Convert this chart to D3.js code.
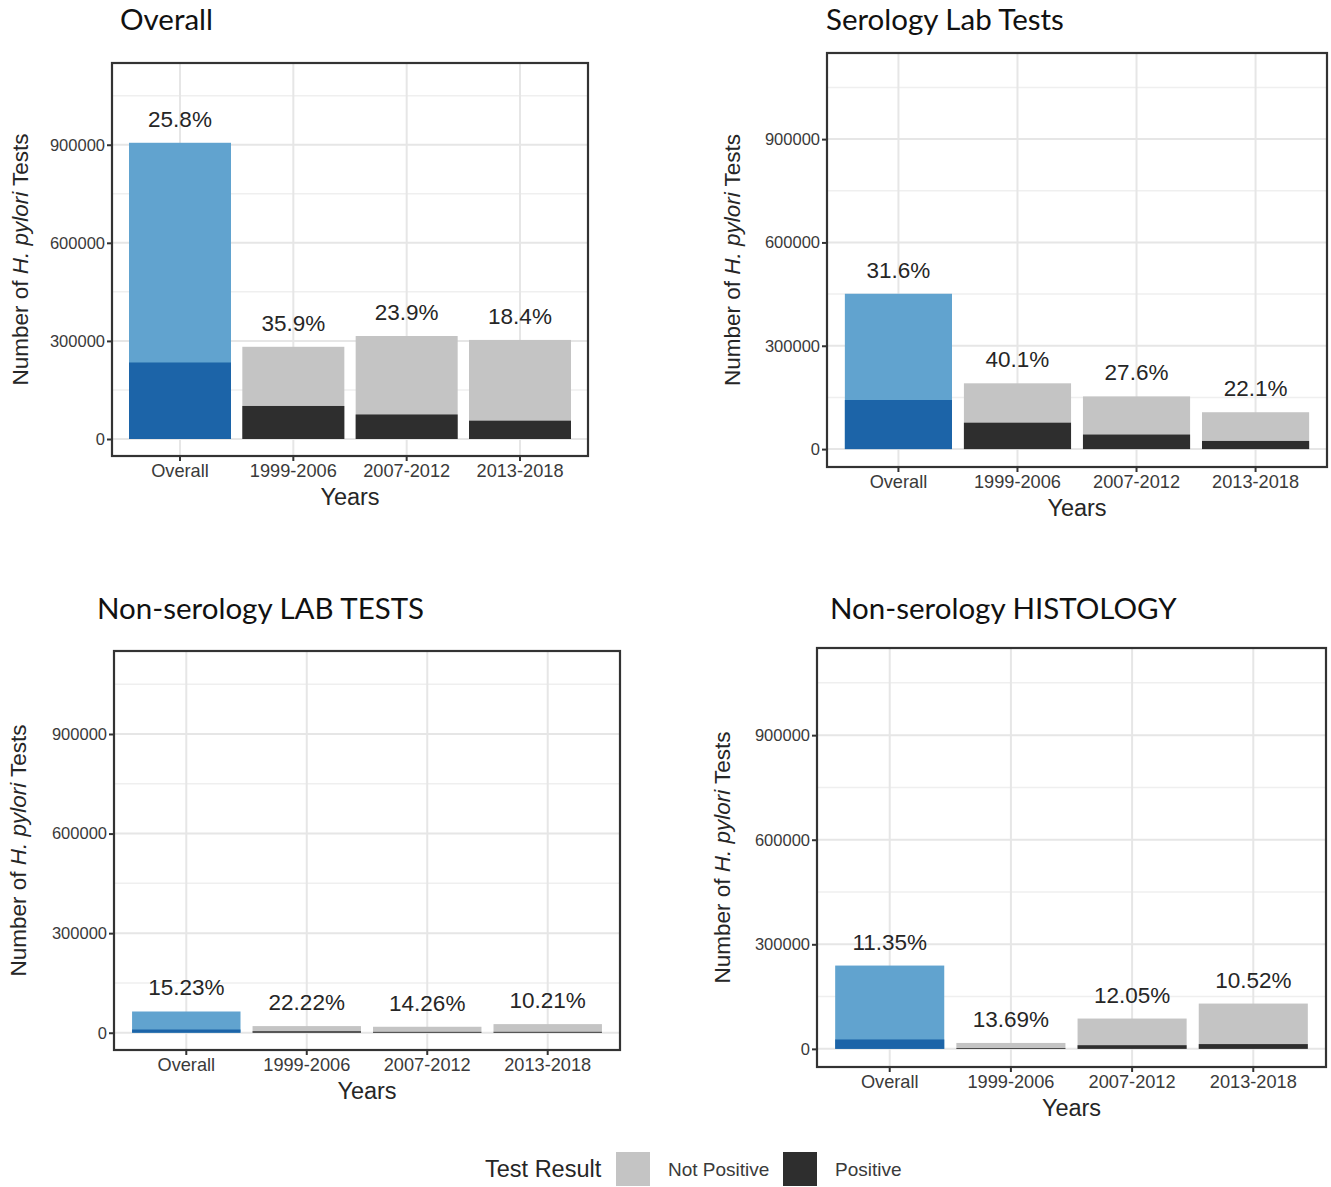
<!DOCTYPE html>
<meta charset="utf-8">
<body style="margin:0;background:#fff">
<svg width="1331" height="1187"></svg>
<script src="https://cdnjs.cloudflare.com/ajax/libs/d3/7.8.5/d3.min.js"></script>
<script>

// categories and tick values
var categories = ["Overall", "1999-2006", "2007-2012", "2013-2018"];
var yTicks = [0, 300000, 600000, 900000];
var yMinorTicks = [150000, 450000, 750000, 1050000];

// number of tests (total) and positive tests
var overallTotal = [906000, 282000, 315000, 303000];
var overallPositive = [234000, 101000, 75000, 56000];
var overallPct = ["25.8%", "35.9%", "23.9%", "18.4%"];

var serologyTotal = [451000, 191000, 153000, 107000];
var serologyPositive = [142500, 76600, 42200, 23600];
var serologyPct = ["31.6%", "40.1%", "27.6%", "22.1%"];

var labTotal = [64000, 20000, 18000, 26000];
var labPositive = [9700, 4400, 2600, 2700];
var labPct = ["15.23%", "22.22%", "14.26%", "10.21%"];

var histoTotal = [239000, 17000, 87000, 130000];
var histoPositive = [27000, 2300, 10500, 13700];
var histoPct = ["11.35%", "13.69%", "12.05%", "10.52%"];

var panelTitles = ["Overall", "Serology Lab Tests", "Non-serology LAB TESTS", "Non-serology HISTOLOGY"];

var legendLabels = ["Not Positive", "Positive"];

// layout of each panel box
var panels = [
  {title: panelTitles[0], total: overallTotal, pos: overallPositive, pct: overallPct,
   x0: 112, x1: 588, y0: 63, y1: 456, tx: 120, ty: 30, ax: 20},
  {title: panelTitles[1], total: serologyTotal, pos: serologyPositive, pct: serologyPct,
   x0: 827, x1: 1327, y0: 53, y1: 467, tx: 826, ty: 30, ax: 732},
  {title: panelTitles[2], total: labTotal, pos: labPositive, pct: labPct,
   x0: 114, x1: 620, y0: 651, y1: 1050, tx: 97, ty: 619, ax: 18},
  {title: panelTitles[3], total: histoTotal, pos: histoPositive, pct: histoPct,
   x0: 817, x1: 1326, y0: 648, y1: 1067, tx: 830, ty: 619, ax: 722}
];

var colLight = "#61a3cf", colDark = "#1c64a8";
var colGrey = "#c4c4c4", colBlack = "#2e2e2e";
var textCol = "#262626";
var tickFont = "Liberation Sans, Arial, sans-serif";

var svg = d3.select("svg");

panels.forEach(function(p) {
  var g = svg.append("g");

  var x = d3.scaleBand()
    .domain(categories)
    .range([p.x0, p.x1])
    .paddingInner(0.1)
    .paddingOuter(0.15);
  var y = d3.scaleLinear().domain([-52000, 1150000]).range([p.y1, p.y0]);

  // grid
  g.selectAll(".minor").data(yMinorTicks).enter().append("line")
    .attr("x1", p.x0).attr("x2", p.x1)
    .attr("y1", function(d) { return y(d); }).attr("y2", function(d) { return y(d); })
    .attr("stroke", "#efefef").attr("stroke-width", 1.5);
  g.selectAll(".major").data(yTicks).enter().append("line")
    .attr("x1", p.x0).attr("x2", p.x1)
    .attr("y1", function(d) { return y(d); }).attr("y2", function(d) { return y(d); })
    .attr("stroke", "#e6e6e6").attr("stroke-width", 2);
  g.selectAll(".vgrid").data(categories).enter().append("line")
    .attr("x1", function(d) { return x(d) + x.bandwidth() / 2; })
    .attr("x2", function(d) { return x(d) + x.bandwidth() / 2; })
    .attr("y1", p.y0).attr("y2", p.y1)
    .attr("stroke", "#e6e6e6").attr("stroke-width", 2);

  // bars: total then positive on top
  g.selectAll(".tot").data(categories).enter().append("rect")
    .attr("x", function(d) { return x(d); })
    .attr("width", x.bandwidth())
    .attr("y", function(d, i) { return y(p.total[i]); })
    .attr("height", function(d, i) { return y(0) - y(p.total[i]); })
    .attr("fill", function(d, i) { return i == 0 ? colLight : colGrey; });
  g.selectAll(".pos").data(categories).enter().append("rect")
    .attr("x", function(d) { return x(d); })
    .attr("width", x.bandwidth())
    .attr("y", function(d, i) { return y(p.pos[i]); })
    .attr("height", function(d, i) { return y(0) - y(p.pos[i]); })
    .attr("fill", function(d, i) { return i == 0 ? colDark : colBlack; });

  // percent labels
  g.selectAll(".pct").data(categories).enter().append("text")
    .attr("x", function(d) { return x(d) + x.bandwidth() / 2; })
    .attr("y", function(d, i) { return y(p.total[i]) - 16; })
    .attr("text-anchor", "middle")
    .style("font-family", tickFont).style("font-size", "22.5px").style("fill", textCol)
    .text(function(d, i) { return p.pct[i]; });

  // border
  g.append("rect")
    .attr("x", p.x0).attr("y", p.y0)
    .attr("width", p.x1 - p.x0).attr("height", p.y1 - p.y0)
    .attr("fill", "none").attr("stroke", "#333").attr("stroke-width", 2.2);

  // axes
  var ya = g.append("g")
    .attr("transform", "translate(" + p.x0 + ",0)")
    .call(d3.axisLeft(y).tickValues(yTicks).tickSize(5).tickPadding(2).tickFormat(d3.format("d")));
  ya.select(".domain").remove();
  ya.selectAll("line").attr("stroke", "#333").attr("stroke-width", 2);
  ya.selectAll("text").style("font-family", tickFont).style("font-size", "16.5px").style("fill", "#3a3a3a");

  var xa = g.append("g")
    .attr("transform", "translate(0," + p.y1 + ")")
    .call(d3.axisBottom(x).tickSize(5).tickPadding(3));
  xa.select(".domain").remove();
  xa.selectAll("line").attr("stroke", "#333").attr("stroke-width", 2);
  xa.selectAll("text").style("font-family", tickFont).style("font-size", "18.2px").style("fill", "#3a3a3a");

  // axis titles
  g.append("text")
    .attr("x", (p.x0 + p.x1) / 2).attr("y", p.y1 + 49)
    .attr("text-anchor", "middle")
    .style("font-family", tickFont).style("font-size", "23.5px").style("fill", textCol)
    .text("Years");

  var yt = g.append("text")
    .attr("transform", "translate(" + (p.ax + 8) + "," + ((p.y0 + p.y1) / 2) + ") rotate(-90)")
    .attr("text-anchor", "middle")
    .style("font-family", tickFont).style("font-size", "22.5px").style("fill", textCol);
  yt.append("tspan").text("Number of ");
  yt.append("tspan").style("font-style", "italic").text("H. pylori");
  yt.append("tspan").text(" Tests");

  // panel title
  g.append("text")
    .attr("x", p.tx).attr("y", p.ty)
    .style("font-family", "Lato, 'Open Sans', sans-serif").style("font-size", "29.5px").style("fill", "#111")
    .text(p.title);
});

// legend
var legend = svg.append("g");
legend.append("text")
  .attr("x", 485).attr("y", 1177)
  .style("font-family", tickFont).style("font-size", "23.5px").style("fill", textCol)
  .text("Test Result");
var legendX = d3.scalePoint().domain(legendLabels).range([616, 783]);
var legendCols = [colGrey, colBlack];
legend.selectAll(".key").data(legendLabels).enter().append("rect")
  .attr("x", function(d) { return legendX(d); })
  .attr("y", 1152).attr("width", 34).attr("height", 34)
  .attr("fill", function(d, i) { return legendCols[i]; });
legend.selectAll(".lab").data(legendLabels).enter().append("text")
  .attr("x", function(d) { return legendX(d) + 52; })
  .attr("y", 1176)
  .style("font-family", tickFont).style("font-size", "19px").style("fill", "#3a3a3a")
  .text(function(d) { return d; });

</script>
</body>
